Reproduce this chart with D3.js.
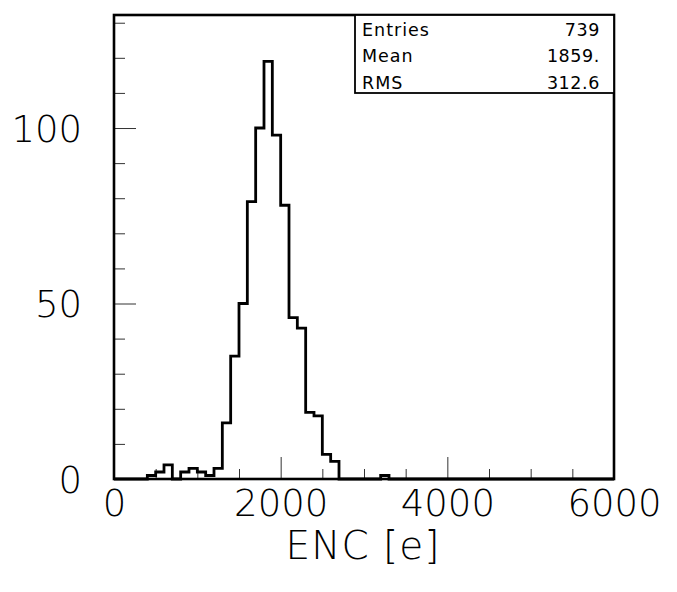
<!DOCTYPE html>
<html>
<head>
<meta charset="utf-8">
<script src="https://cdn.jsdelivr.net/npm/d3@7"></script>
<style>
  body { margin: 0; background: #fff; }
  .tick line { stroke: #333; stroke-width: 1; }
  .tick text { font-family: "DejaVu Sans", sans-serif; font-weight: 200; fill: #000; }
</style>
</head>
<body>
<div id="chart"></div>
<script>
// histogram bins (lower edge, 100 wide) and contents
var binLow = [400, 500, 600, 700, 800, 900, 1000, 1100, 1200, 1300, 1400, 1500, 1600, 1700,
              1800, 1900, 2000, 2100, 2200, 2300, 2400, 2500, 2600, 2700, 2800, 2900, 3000, 3100, 3200];
var counts = [1, 2, 4, 0, 2, 3, 2, 1, 3, 16, 35, 50, 79, 100,
              119, 98, 78, 46, 43, 19, 18, 7, 5, 0, 0, 0, 0, 0, 1];
var binWidth = 100;

var xMajor = [0, 2000, 4000, 6000];
var xMinor = [500, 1000, 1500, 2500, 3000, 3500, 4500, 5000, 5500];
var yMajor = [0, 50, 100];
var yMinor = [10, 20, 30, 40, 60, 70, 80, 90, 110, 120, 130];

var statNames = ["Entries", "Mean", "RMS"];
var statValues = ["739", "1859.", "312.6"];

var xTitle = "ENC [e]";

function draw() {
  var W = 677, H = 592;
  var margin = {top: 15, right: 63, bottom: 113, left: 114},
      width = W - margin.left - margin.right,
      height = H - margin.top - margin.bottom;

  var svg = d3.select("#chart")
    .append("svg")
    .attr("width", W)
    .attr("height", H)
    .append("g")
    .attr("transform", "translate(" + margin.left + "," + margin.top + ")");

  var x = d3.scaleLinear()
    .domain([0, 6000])
    .range([0, width]);
  var y = d3.scaleLinear()
    .domain([0, 132.2])
    .range([height, 0]);

  // minor ticks first, then major with labels
  svg.append("g")
    .attr("transform", "translate(0," + height + ")")
    .call(d3.axisBottom(x).tickValues(xMinor).tickSize(-10).tickFormat(""))
    .call(function(g) { g.select(".domain").remove(); });

  svg.append("g")
    .attr("transform", "translate(0," + height + ")")
    .call(d3.axisBottom(x).tickValues(xMajor).tickSize(-22).tickPadding(11).tickFormat(d3.format("d")))
    .call(function(g) {
      g.select(".domain").remove();
      g.selectAll("text").style("font-size", "37px");
    });

  svg.append("g")
    .call(d3.axisLeft(y).tickValues(yMinor).tickSize(-11).tickFormat(""))
    .call(function(g) { g.select(".domain").remove(); });

  svg.append("g")
    .call(d3.axisLeft(y).tickValues(yMajor).tickSize(-22).tickPadding(32).tickFormat(d3.format("d")))
    .call(function(g) {
      g.select(".domain").remove();
      g.selectAll("text").style("font-size", "37px").attr("dy", "0.36em");
    });

  // histogram outline: only the top edges, joined at bin boundaries
  var pts = [[0, 0]];
  binLow.forEach(function(lo, i) {
    pts.push([lo, i === 0 ? 0 : counts[i - 1]]);
    pts.push([lo, counts[i]]);
  });
  var last = binLow.length - 1;
  pts.push([binLow[last] + binWidth, counts[last]]);
  pts.push([binLow[last] + binWidth, 0]);
  pts.push([6000, 0]);

  var line = d3.line()
    .x(function(d) { return x(d[0]); })
    .y(function(d) { return y(d[1]); });

  svg.append("path")
    .datum(pts)
    .attr("d", line)
    .attr("fill", "none")
    .attr("stroke", "#000")
    .attr("stroke-width", 2.8)
    .attr("stroke-linejoin", "miter");

  // frame
  svg.append("rect")
    .attr("width", width)
    .attr("height", height)
    .attr("fill", "none")
    .attr("stroke", "#000")
    .attr("stroke-width", 2.6);

  // stats box
  var boxL = 241, boxH = 78;
  var stats = svg.append("g");
  stats.append("rect")
    .attr("x", boxL)
    .attr("y", 0)
    .attr("width", width - boxL)
    .attr("height", boxH)
    .attr("fill", "#fff")
    .attr("stroke", "#000")
    .attr("stroke-width", 1.8);

  statNames.forEach(function(name, i) {
    var yy = 20.5 + i * 26.5;
    stats.append("text")
      .attr("x", boxL + 7)
      .attr("y", yy)
      .style("font-family", "'DejaVu Sans', sans-serif")
      .style("font-size", "17.5px")
      .style("letter-spacing", "1px")
      .text(name);
    stats.append("text")
      .attr("x", width - 14)
      .attr("y", yy)
      .attr("text-anchor", "end")
      .style("font-family", "'DejaVu Sans', sans-serif")
      .style("font-size", "17.5px")
      .style("letter-spacing", "0.6px")
      .text(statValues[i]);
  });

  // x title
  svg.append("text")
    .attr("x", 249)
    .attr("y", height + 80)
    .attr("text-anchor", "middle")
    .style("font-family", "'DejaVu Sans', sans-serif")
    .style("font-weight", 200)
    .style("font-size", "39px")
    .style("letter-spacing", "1px")
    .text(xTitle);
}

draw();
</script>
</body>
</html>
